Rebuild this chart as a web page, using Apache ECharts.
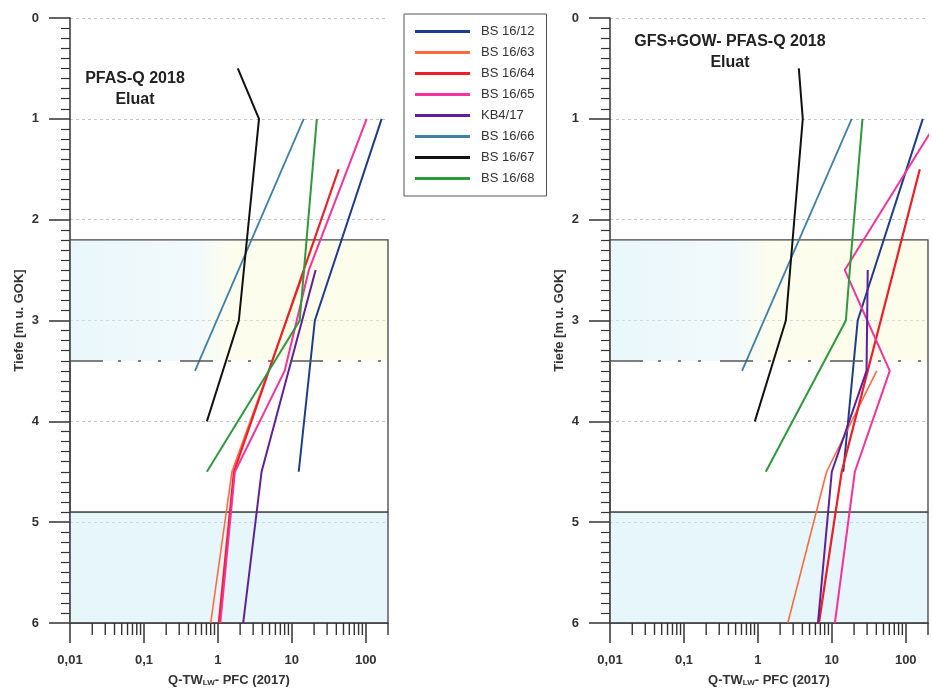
<!DOCTYPE html>
<html>
<head>
<meta charset="utf-8">
<script src="https://cdn.jsdelivr.net/npm/echarts@6/dist/echarts.min.js"></script>
<style>html,body{margin:0;padding:0;background:#fff}#c{width:932px;height:692px}</style>
</head>
<body>
<div id="c"></div>
<script>
// ---- data: [depth (m u. GOK), Q-TW value] ----
const seriesNames = ['BS 16/12','BS 16/63','BS 16/64','BS 16/65','KB4/17','BS 16/66','BS 16/67','BS 16/68'];

const left_BS1612 = [[1,164],[3,20.5],[4.5,12.4]];
const left_BS1663 = [[2.5,15],[4.5,1.55],[6,0.8]];
const left_BS1664 = [[1.5,43],[4.5,1.65],[6,1.03]];
const left_BS1665 = [[1,103],[2.5,17],[3.5,8],[4.5,1.7],[6,1.08]];
const left_KB417  = [[2.5,21],[4.5,3.9],[6,2.2]];
const left_BS1666 = [[1,14.5],[3.5,0.49]];
const left_BS1667 = [[0.5,1.86],[1,3.6],[3,1.92],[4,0.71]];
const left_BS1668 = [[1,21.8],[3,12.8],[4.5,0.71]];

const right_BS1612 = [[1,170],[3,22.4],[4.5,14.3]];
const right_BS1663 = [[3.5,40.5],[4.5,8.5],[6,2.54]];
const right_BS1664 = [[1.5,155],[4.5,13.6],[6,6.7]];
const right_BS1665 = [[1,280],[2.5,15],[3.5,60.8],[4.5,20.5],[6,11]];
const right_KB417  = [[2.5,30.6],[3.5,29.5],[4.5,10],[6,6.5]];
const right_BS1666 = [[1,18.6],[3.5,0.61]];
const right_BS1667 = [[0.5,3.58],[1,4.05],[3,2.39],[4,0.91]];
const right_BS1668 = [[1,26],[2.5,17.5],[3,15.5],[4.5,1.28]];

const xMinorTickValues = [0.02,0.03,0.04,0.05,0.06,0.07,0.08,0.09,0.2,0.3,0.4,0.5,0.6,0.7,0.8,0.9,2,3,4,5,6,7,8,9,20,30,40,50,60,70,80,90,200];
const layerTop = 2.2, layerMid = 3.4, layerBase = 4.9, depthMax = 6;

const leftData  = [left_BS1612,left_BS1663,left_BS1664,left_BS1665,left_KB417,left_BS1666,left_BS1667,left_BS1668];
const rightData = [right_BS1612,right_BS1663,right_BS1664,right_BS1665,right_KB417,right_BS1666,right_BS1667,right_BS1668];

// ---- styles ----
const colors = ['#1d3c8c','#ff6a3d','#f21c24','#f5329e','#5e1f9c','#3f80a8','#111111','#2b9a3c'];
const widths = [2,1.6,2.2,2,2,1.8,2,2];

const panels = [{left:70, title:'PFAS-Q 2018\nEluat', tx:135, ty:89},
                {left:610, title:'GFS+GOW- PFAS-Q 2018\nEluat', tx:730, ty:52}];

const grids = [], xAxes = [], yAxes = [], series = [], graphics = [];
const labelFont = {fontSize:13, fontWeight:'bold', color:'#333', fontFamily:'Liberation Sans, Arial, sans-serif'};

panels.forEach((p, i) => {
  grids.push({left:p.left, top:18, width:318, height:610});
  xAxes.push({
    type:'log', logBase:10, gridIndex:i, min:0.01, max:200, position:'bottom',
    axisLine:{show:true, onZero:false, lineStyle:{color:'#333', width:1.5}},
    axisTick:{show:true, length:20, lineStyle:{color:'#333', width:1.5}},
    axisLabel:Object.assign({margin:31, showMaxLabel:false, formatter:function(v){
      const l = Math.log10(v);
      if (Math.abs(l - Math.round(l)) > 1e-6) return '';
      return String(Number(v.toPrecision(3))).replace('.', ',');
    }}, labelFont),
    splitLine:{show:false},
    name:'{a|Q-TW}{s|LW}{a|- PFC (2017)}', nameLocation:'middle', nameGap:50,
    nameTextStyle:{rich:{
      a:{fontSize:13, fontWeight:'bold', color:'#333', fontFamily:'Liberation Sans, Arial, sans-serif'},
      s:{fontSize:8, fontWeight:'bold', color:'#333', verticalAlign:'bottom', padding:[6,0,0,0], fontFamily:'Liberation Sans, Arial, sans-serif'}
    }}
  });
  yAxes.push({
    type:'value', gridIndex:i, min:0, max:depthMax, interval:1, inverse:true, position:'left',
    axisLine:{show:true, onZero:false, lineStyle:{color:'#333', width:1.5}},
    axisTick:{show:true, length:21, lineStyle:{color:'#333', width:1.5}},
    minorTick:{show:true, splitNumber:10, length:9, lineStyle:{color:'#333', width:1.2}},
    axisLabel:Object.assign({margin:31}, labelFont),
    splitLine:{show:true, lineStyle:{color:'#c4c4c4', type:[3,3], width:1}},
    name:'Tiefe [m u. GOK]', nameLocation:'middle', nameGap:44, nameRotate:90,
    nameTextStyle:{fontSize:13, fontWeight:'bold', color:'#333', fontFamily:'Liberation Sans, Arial, sans-serif'}
  });

  // minor ticks of the log axis + layer shading + marker line
  series.push({
    type:'custom', xAxisIndex:i, yAxisIndex:i, silent:true, z:3,
    data: xMinorTickValues.map(v => [v, depthMax]),
    renderItem: function(params, api){
      const pt = api.coord([api.value(0), api.value(1)]);
      return {type:'line', shape:{x1:pt[0], y1:pt[1], x2:pt[0], y2:pt[1]+12},
              style:{stroke:'#333', lineWidth:1.4}};
    },
    markArea:{silent:true, data:[
      [{yAxis:layerTop, itemStyle:{color:{type:'linear',x:0,y:0,x2:1,y2:0,colorStops:[
          {offset:0,color:'rgba(215,240,248,0.55)'},{offset:0.4,color:'rgba(225,243,248,0.45)'},
          {offset:0.5,color:'rgba(250,250,215,0.42)'},{offset:1,color:'rgba(250,250,210,0.45)'}]}}},
       {yAxis:layerMid}],
      [{yAxis:layerTop, itemStyle:{color:'rgba(0,0,0,0)', borderColor:'#444', borderWidth:1.3}}, {yAxis:layerBase}],
      [{yAxis:layerBase, itemStyle:{color:'rgba(205,237,246,0.5)', borderColor:'#444', borderWidth:1.3}}, {yAxis:depthMax}]
    ]},
    markLine:{silent:true, symbol:['none','none'], label:{show:false},
      lineStyle:{color:'#555', width:1.5, type:[33,15,3,17,3,17,3,19]},
      data:[{yAxis:layerMid}]}
  });

  const dataSet = i === 0 ? leftData : rightData;
  seriesNames.forEach((n, k) => {
    series.push({
      type:'line', name:n, xAxisIndex:i, yAxisIndex:i, z:4,
      data: dataSet[k].map(d => [d[1], d[0]]),
      symbol:'none', showSymbol:false, clip:true,
      lineStyle:{color:colors[k], width:widths[k]}, itemStyle:{color:colors[k]}
    });
  });

  graphics.push({type:'text', x:p.tx, y:p.ty, z:10,
    style:{text:p.title, font:'bold 16px "Liberation Sans", Arial, sans-serif', fill:'#222',
      align:'center', textAlign:'center', verticalAlign:'middle', textVerticalAlign:'middle', lineHeight:21}});
});

const chart = echarts.init(document.getElementById('c'), null, {renderer:'canvas'});
chart.setOption({
  animation:false,
  backgroundColor:'#fff',
  grid:grids, xAxis:xAxes, yAxis:yAxes, series:series, graphic:graphics,
  legend:{
    data:seriesNames, left:404, top:14, orient:'vertical',
    padding:[11,12,11,11], itemWidth:55, itemHeight:3, itemGap:8, icon:'rect',
    borderColor:'#555', borderWidth:1, backgroundColor:'#fff',
    textStyle:{fontSize:13, color:'#333', padding:[0,0,0,6], fontFamily:'Liberation Sans, Arial, sans-serif'}
  }
});
</script>
</body>
</html>
